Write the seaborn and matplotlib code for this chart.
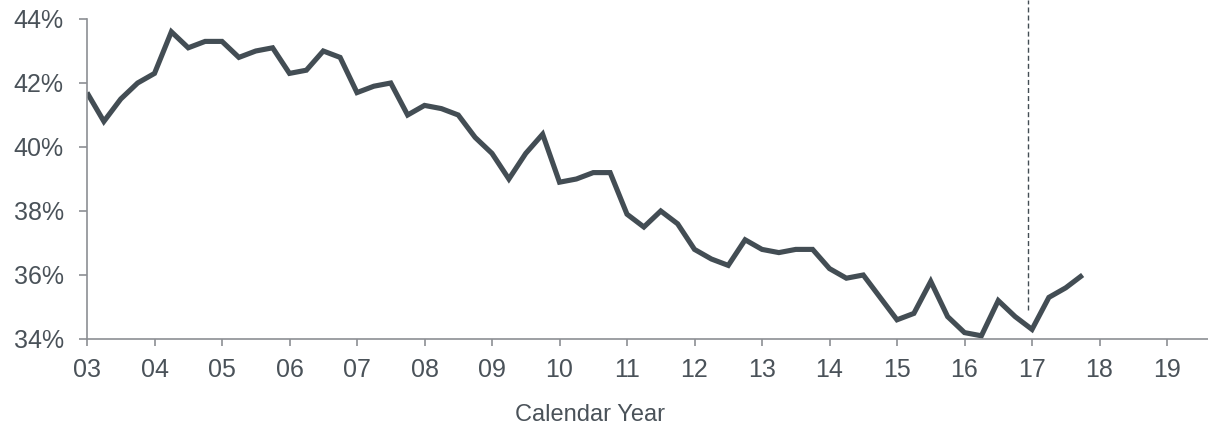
import numpy as np
import pandas as pd
import matplotlib
matplotlib.use("Agg")
import matplotlib.pyplot as plt
import seaborn as sns

# Quarterly share, 2003 Q1 to 2017 Q4 (percent)
quarters = pd.period_range("2003Q1", "2017Q4", freq="Q")
share_pct = [
    41.7, 40.8, 41.5, 42.0, 42.3, 43.6, 43.1, 43.3, 43.3, 42.8,
    43.0, 43.1, 42.3, 42.4, 43.0, 42.8, 41.7, 41.9, 42.0, 41.0,
    41.3, 41.2, 41.0, 40.3, 39.8, 39.0, 39.8, 40.4, 38.9, 39.0,
    39.2, 39.2, 37.9, 37.5, 38.0, 37.6, 36.8, 36.5, 36.3, 37.1,
    36.8, 36.7, 36.8, 36.8, 36.2, 35.9, 36.0, 35.3, 34.6, 34.8,
    35.8, 34.7, 34.2, 34.1, 35.2, 34.7, 34.3, 35.3, 35.6, 36.0,
]
year_ticks = list(range(3, 20))
year_labels = [f"{y:02d}" for y in year_ticks]
pct_ticks = [34, 36, 38, 40, 42, 44]
pct_labels = [f"{p}%" for p in pct_ticks]
divider_year = 16.94
divider_span = (34.9, 44.6)

# decimal year (two-digit) for each quarter
year_pos = [(q.year - 2000) + (q.quarter - 1) / 4 for q in quarters]
df = pd.DataFrame({"year": year_pos, "share": share_pct})

sns.set_style("ticks")
plt.rcParams["font.family"] = ["Liberation Sans", "DejaVu Sans"]

line_col = "#434d54"
text_col = "#4a5259"
spine_col = "#8c8f93"

fig = plt.figure(figsize=(12.08, 4.26), dpi=100)
ax = fig.add_axes([87 / 1208, 1 - 339 / 426, (1208 - 87) / 1208, (339 - 19) / 426])

sns.lineplot(data=df, x="year", y="share", ax=ax, color=line_col,
             linewidth=3.7, solid_joinstyle="miter", solid_capstyle="butt")

ax.plot([divider_year, divider_year], divider_span, color=line_col,
        linewidth=1.0, dashes=(3.6, 2.2), clip_on=False)

ax.set_xlim(3, 3 + (1208 - 87) / 67.5)
ax.set_ylim(34, 44)
ax.set_xticks(year_ticks)
ax.set_xticklabels(year_labels)
ax.set_yticks(pct_ticks)
ax.set_yticklabels(pct_labels)

ax.set_xlabel("")
ax.set_ylabel("")
for side in ("top", "right"):
    ax.spines[side].set_visible(False)
for side in ("left", "bottom"):
    ax.spines[side].set_color(spine_col)
    ax.spines[side].set_linewidth(1.2)

ax.tick_params(axis="y", length=5.8, width=1.2, color=spine_col,
               labelcolor=text_col, labelsize=18, pad=11)
ax.tick_params(axis="x", length=5.0, width=1.2, color=spine_col,
               labelcolor=text_col, labelsize=18, pad=9)

fig.text(590 / 1208, 1 - 415 / 426, "Calendar Year", ha="center", va="center",
         fontsize=17, color=text_col)

fig.savefig("out.png", dpi=100)
